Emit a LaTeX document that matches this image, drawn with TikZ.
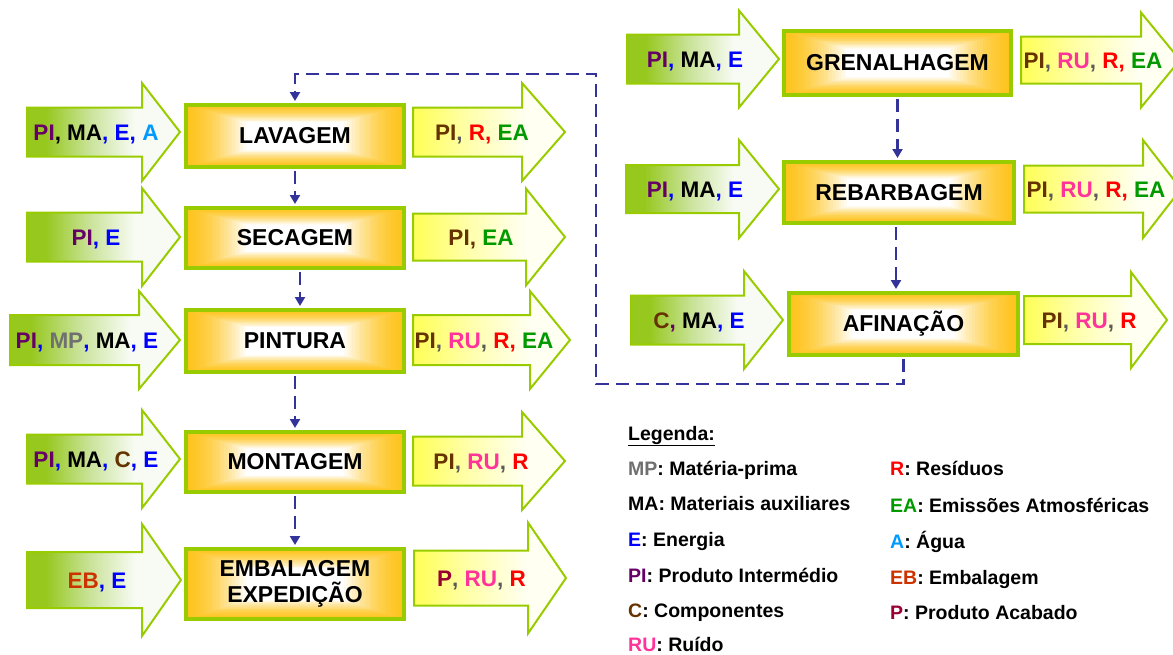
\documentclass[tikz,border=0pt]{standalone}
\usepackage{fontspec}
\setmainfont{Liberation Sans}
\usetikzlibrary{arrows.meta,calc}

% palette
\definecolor{lime}{RGB}{153,204,0}
\definecolor{stagegold}{RGB}{254,196,30}
\definecolor{flowblue}{RGB}{51,51,153}
\definecolor{ingA}{RGB}{150,200,30}
\definecolor{ingB}{RGB}{200,226,150}
\definecolor{ingC}{RGB}{247,251,243}
\definecolor{oyA}{RGB}{255,255,95}
\definecolor{oyB}{RGB}{255,255,170}
\definecolor{oyC}{RGB}{255,255,242}
\definecolor{cPI}{RGB}{102,0,102}
\definecolor{cPIo}{RGB}{102,51,0}
\definecolor{cC}{RGB}{102,51,0}
\definecolor{cMP}{RGB}{112,112,112}
\definecolor{cE}{RGB}{0,0,255}
\definecolor{cA}{RGB}{0,153,255}
\definecolor{cRU}{RGB}{255,51,153}
\definecolor{cR}{RGB}{255,0,0}
\definecolor{cEA}{RGB}{0,153,0}
\definecolor{cEB}{RGB}{204,51,0}
\definecolor{cP}{RGB}{153,0,51}
\definecolor{cSep}{RGB}{90,90,90}

% shadings: the path's bounding box spans 25bp..75bp
\pgfdeclarehorizontalshading{inshade}{100bp}{color(0bp)=(ingA); color(31bp)=(ingA); color(45bp)=(ingB); color(60bp)=(ingC); color(100bp)=(ingC)}
\pgfdeclarehorizontalshading{outshade}{100bp}{color(0bp)=(oyA); color(27bp)=(oyA); color(43bp)=(oyB); color(62bp)=(oyC); color(100bp)=(oyC)}

% block arrow: style, x0, x head, x tip, y axis, half body, half head
\newcommand{\blockarrow}[7]{%
  \path[#1] (#2,#5-#6) -- (#3,#5-#6) -- (#3,#5-#7) -- (#4,#5) -- (#3,#5+#7) -- (#3,#5+#6) -- (#2,#5+#6) -- cycle;}

\tikzset{
  inarrow/.style={draw=lime, line width=2pt, line join=miter, shading=inshade},
  outarrow/.style={draw=lime, line width=2pt, line join=miter, shading=outshade},
  stage/.style={draw=lime, line width=4pt, inner sep=0pt, align=center,
    font=\bfseries\fontsize{23}{26}\selectfont,
    path picture={
      \foreach \k in {0,...,22}{
        \pgfmathsetmacro{\sc}{1-0.025*\k}
        \pgfmathtruncatemacro{\pc}{100*(1-(\k/22)^1.6)}
        \fill[stagegold!\pc!white]
          ($(path picture bounding box.center)!\sc!(path picture bounding box.north west)$) rectangle
          ($(path picture bounding box.center)!\sc!(path picture bounding box.south east)$);
      }}},
  tag/.style={font=\bfseries\fontsize{22.5}{26}\selectfont, inner sep=0pt, text height=16.2pt, text depth=0pt},
  legendtxt/.style={font=\bfseries\fontsize{19.5}{22}\selectfont, inner sep=0pt, anchor=base west},
  flow/.style={draw=flowblue, line width=2.5pt, dash pattern=on 13pt off 7pt,
    -{Triangle[width=10pt,length=9pt]}, shorten >=2pt, shorten <=2pt}
}

\begin{document}
\begin{tikzpicture}[x=1pt,y=-1pt]
\useasboundingbox (0,0) rectangle (1173,654);
\clip (0,0) rectangle (1173,654);

% inputs (left)
\blockarrow{inarrow}{27}{142}{180}{132}{24.5}{49}
\blockarrow{inarrow}{27}{142}{180}{237}{24.5}{49}
\blockarrow{inarrow}{10}{139}{180}{340}{25}{49}
\blockarrow{inarrow}{27}{142}{180}{459}{24.5}{49}
\blockarrow{inarrow}{27}{142}{181}{580}{28}{56}
% outputs (left)
\blockarrow{outarrow}{413}{522}{565}{132}{24.5}{49}
\blockarrow{outarrow}{413}{526}{565}{237}{23.5}{48.5}
\blockarrow{outarrow}{413}{530}{570}{340}{25}{49}
\blockarrow{outarrow}{413}{522}{565}{461}{24.5}{49}
\blockarrow{outarrow}{414}{528}{566}{578}{27.5}{55.5}
% inputs (right)
\blockarrow{inarrow}{627}{739}{779}{59}{24.5}{48.5}
\blockarrow{inarrow}{626}{739}{779}{189}{24}{49}
\blockarrow{inarrow}{631}{744}{783}{320}{24.5}{49}
% outputs (right)
\blockarrow{outarrow}{1021}{1141}{1180}{60}{23.5}{47.5}
\blockarrow{outarrow}{1024}{1143}{1181}{189}{23.5}{49}
\blockarrow{outarrow}{1024}{1131}{1167}{320}{24}{48}

% arrow labels
\node[tag] (lavIn)  at (96,132)   {\textcolor{cPI}{PI}, MA\textcolor{cE}{, E, }\textcolor{cA}{A}};
\node[tag] (lavOut) at (482,132)  {\textcolor{cPIo}{PI}\textcolor{cSep}{,} \textcolor{cR}{R,} \textcolor{cEA}{EA}};
\node[tag] (secIn)  at (96,237)   {\textcolor{cPI}{PI}\textcolor{cE}{, E}};
\node[tag] (secOut) at (481,237)  {\textcolor{cPIo}{PI,} \textcolor{cEA}{EA}};
\node[tag] (pinIn)  at (87,340)   {\textcolor{cPI}{PI}\textcolor{cE}{,} \textcolor{cMP}{MP}\textcolor{cE}{,} MA\textcolor{cE}{, E}};
\node[tag] (pinOut) at (484,340)  {\textcolor{cPIo}{PI}\textcolor{cSep}{,} \textcolor{cRU}{RU}\textcolor{cSep}{,} \textcolor{cR}{R,} \textcolor{cEA}{EA}};
\node[tag] (monIn)  at (96,459)   {\textcolor{cPI}{PI}\textcolor{cE}{,} MA\textcolor{cE}{,} \textcolor{cC}{C}\textcolor{cE}{, E}};
\node[tag] (monOut) at (481,461)  {\textcolor{cPIo}{PI}\textcolor{cSep}{,} \textcolor{cRU}{RU}\textcolor{cSep}{,} \textcolor{cR}{R}};
\node[tag] (embIn)  at (97,580)   {\textcolor{cEB}{EB}\textcolor{cE}{, E}};
\node[tag] (embOut) at (481.5,578){\textcolor{cP}{P}\textcolor{cSep}{,} \textcolor{cRU}{RU}\textcolor{cSep}{,} \textcolor{cR}{R}};
\node[tag] (greIn)  at (695,59)   {\textcolor{cPI}{PI}\textcolor{cE}{,} MA\textcolor{cE}{, E}};
\node[tag] (greOut) at (1093,60)  {\textcolor{cPIo}{PI}\textcolor{cSep}{,} \textcolor{cRU}{RU}\textcolor{cSep}{,} \textcolor{cR}{R,} \textcolor{cEA}{EA}};
\node[tag] (rebIn)  at (695,189)  {\textcolor{cPI}{PI}\textcolor{cE}{,} MA\textcolor{cE}{, E}};
\node[tag] (rebOut) at (1096,189) {\textcolor{cPIo}{PI}\textcolor{cSep}{,} \textcolor{cRU}{RU}\textcolor{cSep}{,} \textcolor{cR}{R,} \textcolor{cEA}{EA}};
\node[tag] (afiIn)  at (699,320)  {\textcolor{cC}{C}\textcolor{cPI}{,} MA\textcolor{cE}{, E}};
\node[tag] (afiOut) at (1089,320) {\textcolor{cPIo}{PI}\textcolor{cSep}{,} \textcolor{cRU}{RU}\textcolor{cSep}{,} \textcolor{cR}{R}};

% process stages
\node[stage, minimum width=218pt, minimum height=62pt] (lav) at (295,136) {LAVAGEM};
\node[stage, minimum width=218pt, minimum height=60pt] (sec) at (295,238) {SECAGEM};
\node[stage, minimum width=218pt, minimum height=62pt] (pin) at (295,341) {PINTURA};
\node[stage, minimum width=218pt, minimum height=60pt] (mon) at (295,462) {MONTAGEM};
\node[stage, minimum width=218pt, minimum height=70pt] (emb) at (295,584) {EMBALAGEM\\EXPEDIÇÃO};
\node[stage, minimum width=227pt, minimum height=64pt] (gre) at (897.5,63) {GRENALHAGEM};
\node[stage, minimum width=230pt, minimum height=61pt] (reb) at (899,192.5) {REBARBAGEM};
\node[stage, minimum width=229pt, minimum height=62pt] (afi) at (903.5,324) {AFINAÇÃO};

% material flow
\draw[flow] (lav.south) -- (sec.north);
\draw[flow] ([xshift=5pt]sec.south) -- ([xshift=5pt]pin.north);
\draw[flow] (pin.south) -- (mon.north);
\draw[flow] (mon.south) -- (emb.north);
\draw[flow] (gre.south) -- (gre.south |- reb.north);
\draw[flow] ([xshift=-3pt]reb.south) -- ([xshift=-3pt]reb.south |- afi.north);
\coordinate (fbA) at (596,384);
\coordinate (fbB) at (596,74);
\draw[flow] (afi.south) |- (fbA) -- (fbB) -| (lav.north);

% legend
\node[legendtxt] (legT) at (628,440) {\underline{Legenda:}};
\node[legendtxt] (legMP) at (628,475) {\textcolor{cMP}{MP}: Matéria-prima};
\node[legendtxt] (legMA) at (628,510) {MA: Materiais auxiliares};
\node[legendtxt] (legE)  at (628,546) {\textcolor{cE}{E}: Energia};
\node[legendtxt] (legPI) at (628,582) {\textcolor{cPI}{PI}: Produto Intermédio};
\node[legendtxt] (legC)  at (628,617) {\textcolor{cC}{C}: Componentes};
\node[legendtxt] (legRU) at (628,651) {\textcolor{cRU}{RU}: Ruído};
\node[legendtxt] (legR)  at (890,475) {\textcolor{cR}{R}: Resíduos};
\node[legendtxt] (legEA) at (890,512) {\textcolor{cEA}{EA}: Emissões Atmosféricas};
\node[legendtxt] (legA)  at (890,548) {\textcolor{cA}{A}: Água};
\node[legendtxt] (legEB) at (890,584) {\textcolor{cEB}{EB}: Embalagem};
\node[legendtxt] (legP)  at (890,619) {\textcolor{cP}{P}: Produto Acabado};
\end{tikzpicture}
\end{document}
